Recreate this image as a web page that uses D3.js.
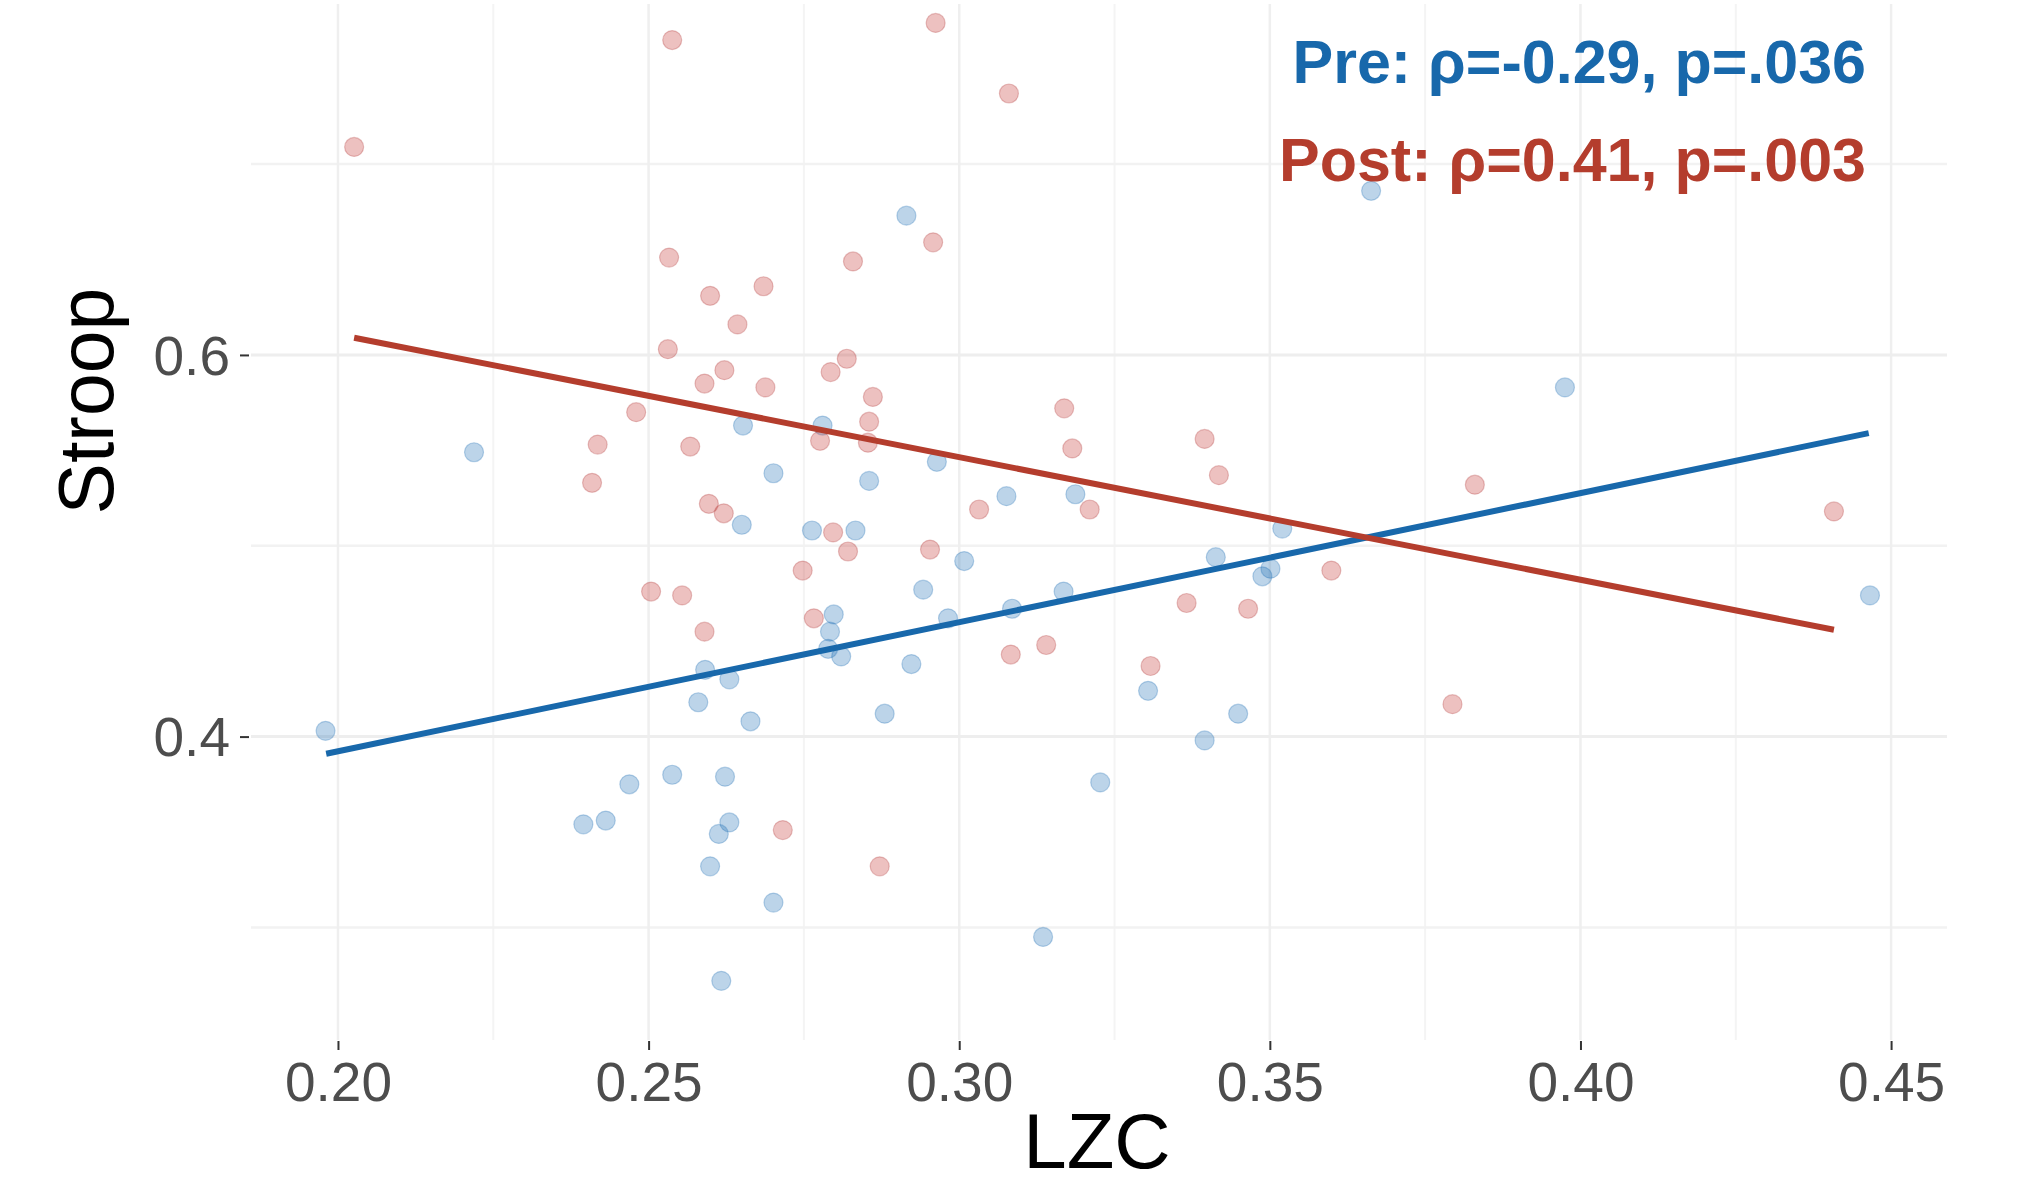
<!DOCTYPE html>
<html>
<head>
<meta charset="utf-8">
<script src="https://cdn.jsdelivr.net/npm/d3@7"></script>
<style>
  html, body { margin: 0; padding: 0; background: #ffffff; }
  svg { display: block; }
  text { font-family: "Liberation Sans", Arial, Helvetica, sans-serif; }
</style>
</head>
<body>
<svg id="chart" width="2017" height="1188"></svg>
<script>
// ---------------- data ----------------
const xTicks = [0.20, 0.25, 0.30, 0.35, 0.40, 0.45];
const xMinor = [0.225, 0.275, 0.325, 0.375, 0.425];
const yTicks = [0.4, 0.6];
const yMinor = [0.3, 0.5, 0.7];

// Pre (blue): LZC and Stroop
const preLZC = [0.2219,0.2652,0.2701,0.2650,0.2915,0.2780,0.2855,0.2964,0.3076,0.3187,
                0.3663,0.3975,0.4466,0.2591,0.2630,0.2580,0.2664,0.1980,0.2469,0.2538,
                0.2623,0.2395,0.2431,0.2630,0.2613,0.2599,0.2701,0.2617,0.2763,0.2833,
                0.3520,0.3008,0.3413,0.3501,0.3488,0.2942,0.3168,0.2798,0.3085,0.2982,
                0.2792,0.2789,0.2810,0.2923,0.3304,0.2880,0.3449,0.3395,0.3227,0.3135];
const preStroop = [0.549,0.563,0.538,0.511,0.673,0.563,0.534,0.544,0.526,0.527,
                   0.686,0.583,0.474,0.435,0.430,0.418,0.408,0.403,0.375,0.380,
                   0.379,0.354,0.356,0.355,0.349,0.332,0.313,0.272,0.508,0.508,
                   0.509,0.492,0.494,0.488,0.484,0.477,0.476,0.464,0.467,0.462,
                   0.455,0.446,0.442,0.438,0.424,0.412,0.412,0.398,0.376,0.295];

// Post (red): LZC and Stroop
const postLZC = [0.2538,0.2026,0.2533,0.2685,0.2599,0.2643,0.2531,0.2622,0.2590,0.2688,
                 0.2480,0.2567,0.2418,0.2409,0.2597,0.2621,0.2962,0.3080,0.2958,0.2829,
                 0.2819,0.2793,0.2861,0.2855,0.2776,0.2853,0.3169,0.3182,0.3395,0.3418,
                 0.3032,0.3210,0.3830,0.3599,0.3794,0.4408,0.2504,0.2554,0.2590,0.2797,
                 0.2821,0.2748,0.2953,0.3366,0.3465,0.2766,0.3083,0.3140,0.3308,0.2716,
                 0.2872];
const postStroop = [0.765,0.709,0.651,0.636,0.631,0.616,0.603,0.592,0.585,0.583,
                    0.570,0.552,0.553,0.533,0.522,0.517,0.774,0.737,0.659,0.649,
                    0.598,0.591,0.578,0.565,0.555,0.554,0.572,0.551,0.556,0.537,
                    0.519,0.519,0.532,0.487,0.417,0.518,0.476,0.474,0.455,0.507,
                    0.497,0.487,0.498,0.470,0.467,0.462,0.443,0.448,0.437,0.351,
                    0.332];

// fitted regression lines (end points)
const preFitX = [0.1981, 0.4464];
const preFitY = [0.391, 0.559];
const postFitX = [0.2026, 0.4408];
const postFitY = [0.609, 0.456];

const labels = ["Pre: \u03c1=-0.29, p=.036", "Post: \u03c1=0.41, p=.003"];
const xTitle = "LZC";
const yTitle = "Stroop";

// ---------------- styles ----------------
const blue = "#1868ab";
const red = "#b43d2d";

const svg = d3.select("#chart");
const x = d3.scaleLinear().domain([0.186, 0.459]).range([251, 1947]);
const y = d3.scaleLinear().domain([0.241, 0.786]).range([1040, 0]);

// grid
const grid = svg.append("g");
grid.selectAll(".vminor").data(xMinor).join("line")
  .attr("x1", d => x(d)).attr("x2", d => x(d)).attr("y1", 4).attr("y2", 1040)
  .attr("stroke", "#f4f4f4").attr("stroke-width", 2);
grid.selectAll(".hminor").data(yMinor).join("line")
  .attr("x1", 251).attr("x2", 1947).attr("y1", d => y(d)).attr("y2", d => y(d))
  .attr("stroke", "#f2f2f2").attr("stroke-width", 2.5);
grid.selectAll(".vmajor").data(xTicks).join("line")
  .attr("x1", d => x(d)).attr("x2", d => x(d)).attr("y1", 4).attr("y2", 1040)
  .attr("stroke", "#efefef").attr("stroke-width", 2.5);
grid.selectAll(".hmajor").data(yTicks).join("line")
  .attr("x1", 251).attr("x2", 1947).attr("y1", d => y(d)).attr("y2", d => y(d))
  .attr("stroke", "#eeeeee").attr("stroke-width", 3);

// axes
const xAxis = d3.axisBottom(x).tickValues(xTicks).tickFormat(d3.format(".2f"))
  .tickSize(9).tickPadding(12);
const gx = svg.append("g").attr("transform", "translate(0,1041)").call(xAxis);
gx.select(".domain").remove();
gx.selectAll(".tick line").attr("stroke", "#333333").attr("stroke-width", 2);
gx.selectAll(".tick text").attr("fill", "#4d4d4d").attr("font-size", 55)
  .attr("dy", "0.71em");

const yAxis = d3.axisLeft(y).tickValues(yTicks).tickFormat(d3.format(".1f"))
  .tickSize(9).tickPadding(10);
const gy = svg.append("g").attr("transform", "translate(249,0)").call(yAxis);
gy.select(".domain").remove();
gy.selectAll(".tick line").attr("stroke", "#333333").attr("stroke-width", 2);
gy.selectAll(".tick text").attr("fill", "#4d4d4d").attr("font-size", 55)
  .attr("dy", "0.35em");

// points
const preData = preLZC.map((v, i) => ({x: v, y: preStroop[i]}));
const postData = postLZC.map((v, i) => ({x: v, y: postStroop[i]}));

svg.append("g").selectAll("circle").data(preData).join("circle")
  .attr("cx", d => x(d.x)).attr("cy", d => y(d.y)).attr("r", 9.5)
  .attr("fill", "#2171b5").attr("fill-opacity", 0.3)
  .attr("stroke", "#2171b5").attr("stroke-opacity", 0.3).attr("stroke-width", 1.2);

svg.append("g").selectAll("circle").data(postData).join("circle")
  .attr("cx", d => x(d.x)).attr("cy", d => y(d.y)).attr("r", 9.5)
  .attr("fill", "#c9443f").attr("fill-opacity", 0.33)
  .attr("stroke", "#b43d3a").attr("stroke-opacity", 0.3).attr("stroke-width", 1.2);

// fitted lines
const line = d3.line().x(d => x(d[0])).y(d => y(d[1]));
svg.append("path").datum(preFitX.map((v, i) => [v, preFitY[i]]))
  .attr("d", line).attr("stroke", blue).attr("stroke-width", 6).attr("fill", "none");
svg.append("path").datum(postFitX.map((v, i) => [v, postFitY[i]]))
  .attr("d", line).attr("stroke", red).attr("stroke-width", 6).attr("fill", "none");

// annotations
svg.append("text").attr("x", 1866).attr("y", 83).attr("text-anchor", "end")
  .attr("font-size", 61).attr("font-weight", "bold").attr("fill", blue).text(labels[0]);
svg.append("text").attr("x", 1866).attr("y", 181).attr("text-anchor", "end")
  .attr("font-size", 61).attr("font-weight", "bold").attr("fill", red).text(labels[1]);

// axis titles
svg.append("text").attr("x", 1097).attr("y", 1168).attr("text-anchor", "middle")
  .attr("font-size", 78).attr("fill", "#000").text(xTitle);
svg.append("text").attr("transform", "translate(113,401) rotate(-90)")
  .attr("text-anchor", "middle").attr("font-size", 77).attr("fill", "#000").text(yTitle);
</script>
</body>
</html>
